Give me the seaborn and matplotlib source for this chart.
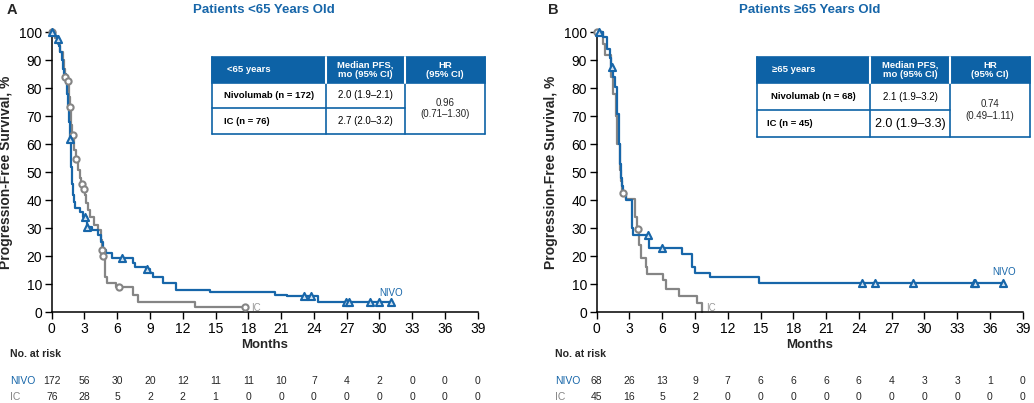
import numpy as np
import pandas as pd
import matplotlib
matplotlib.use("Agg")
import matplotlib.pyplot as plt
from matplotlib.patches import Rectangle
import seaborn as sns

# ---- data: panel A (<65 years) ----
a_nivo_t = [0, 0.3, 0.5, 0.7, 0.8, 0.9, 1.0, 1.15, 1.3, 1.4, 1.5, 1.58, 1.65, 1.75, 1.8, 1.85, 1.92, 2.0, 2.1,
            2.6, 2.9, 3.2, 3.65, 4.25, 4.55, 4.7, 5.0, 5.5, 7.45, 7.6, 8.65, 9.0, 9.3, 10.2, 11.4, 14.5, 20.4,
            21.5, 24.4, 31.1]
a_nivo_s = [100, 98.8, 97.5, 95, 93, 90, 87, 85, 82, 78, 73, 68, 62, 58, 52, 46, 42, 39.5, 37.1,
            36.0, 34.2, 30.6, 29.4, 27.6, 25.2, 22.3, 21.1, 19.3, 17.5, 16.1, 15.4, 13.9, 12.5, 10.6, 8.0, 7.1, 6.2,
            5.7, 3.6, 3.6]
a_nivo_cens = [0, 0.6, 1.67, 3.04, 3.26, 6.4, 8.7, 23.1, 23.7, 26.9, 27.2, 29.1, 30.0, 31.1]

a_ic_t = [0, 0.3, 0.6, 0.8, 1.0, 1.1, 1.2, 1.45, 1.55, 1.65, 1.8, 1.9, 2.05, 2.2, 2.4, 2.55, 2.7, 2.9, 3.05,
          3.15, 3.35, 3.55, 3.85, 4.26, 4.5, 4.6, 4.7, 4.85, 5.1, 5.9, 7.45, 7.9, 13.1, 17.7]
a_ic_s = [100, 98, 96, 93, 90, 87, 84.1, 82.6, 77, 73.3, 67, 63.3, 58, 54.6, 51, 48, 45.7, 44.2, 42,
          39, 36.5, 34.2, 31.2, 29.4, 25.8, 22.2, 20.2, 12.7, 10.6, 8.9, 6.2, 3.8, 1.8, 1.8]
a_ic_cens = [0, 1.22, 1.5, 1.7, 1.95, 2.27, 2.8, 3.0, 4.62, 4.72, 6.2, 17.7]

# ---- data: panel B (>=65 years) ----
b_nivo_t = [0, 0.6, 0.9, 1.2, 1.3, 1.5, 1.68, 1.83, 2.0, 2.14, 2.2, 2.3, 2.45, 2.7, 3.2, 3.3, 4.8, 7.8, 8.7,
            9.0, 10.4, 14.9, 37.2]
b_nivo_s = [100, 98.5, 94, 91, 87.5, 84, 80.6, 71, 60, 53, 47.9, 45, 42.5, 40, 30, 27.6, 22.9, 20.8, 16.3,
            14.2, 12.7, 10.6, 10.6]
b_nivo_cens = [0.2, 1.43, 4.73, 6.0, 24.3, 25.5, 29.0, 34.5, 34.6, 37.2]

b_ic_t = [0, 0.6, 0.8, 1.3, 1.5, 1.74, 1.9, 2.1, 2.2, 2.35, 2.7, 3.5, 3.7, 3.9, 4.1, 4.5, 4.6, 6.1, 6.35,
          7.5, 9.15, 9.6, 9.65]
b_ic_s = [100, 96, 91.9, 84, 78, 70, 60, 50.8, 47, 42.5, 40.5, 34, 29.8, 24, 19.3, 16.3, 13.7, 11.5, 8.3,
          6.0, 3.2, 0, 0]
b_ic_cens = [0, 2.44, 3.81]

risk_months = list(range(0, 40, 3))
a_risk_nivo = [172, 56, 30, 20, 12, 11, 11, 10, 7, 4, 2, 0, 0, 0]
a_risk_ic = [76, 28, 5, 2, 2, 1, 0, 0, 0, 0, 0, 0, 0, 0]
b_risk_nivo = [68, 26, 13, 9, 7, 6, 6, 6, 6, 4, 3, 3, 1, 0]
b_risk_ic = [45, 16, 5, 2, 0, 0, 0, 0, 0, 0, 0, 0, 0, 0]

a_table = [["<65 years", "Median PFS,\nmo (95% CI)", "HR\n(95% CI)"],
           ["Nivolumab (n = 172)", "2.0 (1.9\u20132.1)", "0.96\n(0.71\u20131.30)"],
           ["IC (n = 76)", "2.7 (2.0\u20133.2)", ""]]
b_table = [["\u226565 years", "Median PFS,\nmo (95% CI)", "HR\n(95% CI)"],
           ["Nivolumab (n = 68)", "2.1 (1.9\u20133.2)", "0.74\n(0.49\u20131.11)"],
           ["IC (n = 45)", "2.0 (1.9\u20133.3)", ""]]

BLUE = "#1766a9"
HEAD = "#0d62a6"
GRAY = "#858585"

sns.set_style("ticks")
plt.rcParams["font.family"] = ["Liberation Sans", "DejaVu Sans"]

W, H = 1034, 403
fig = plt.figure(figsize=(W / 100, H / 100), dpi=100)


def fx(px):
    return px / W


def fy(py):
    return 1 - py / H


def step_at(times, surv, t):
    idx = np.searchsorted(times, t, side="right") - 1
    return np.asarray(surv)[idx]


def km_panel(ax, nivo_t, nivo_s, nivo_c, ic_t, ic_s, ic_c):
    ic = pd.DataFrame({"t": ic_t, "s": ic_s})
    nv = pd.DataFrame({"t": nivo_t, "s": nivo_s})
    sns.lineplot(data=ic, x="t", y="s", ax=ax, color=GRAY, lw=1.6, drawstyle="steps-post",
                 estimator=None, sort=False, clip_on=False)
    sns.lineplot(data=nv, x="t", y="s", ax=ax, color=BLUE, lw=1.6, drawstyle="steps-post",
                 estimator=None, sort=False, clip_on=False)
    ic_c_df = pd.DataFrame({"t": ic_c, "s": step_at(ic_t, ic_s, ic_c)})
    nv_c_df = pd.DataFrame({"t": nivo_c, "s": step_at(nivo_t, nivo_s, nivo_c)})
    sns.scatterplot(data=ic_c_df, x="t", y="s", ax=ax, marker="o", s=20, facecolor="white",
                    edgecolor=GRAY, linewidth=1.5, clip_on=False, zorder=4)
    sns.scatterplot(data=nv_c_df, x="t", y="s", ax=ax, marker="^", s=26, facecolor="#cfe0ef",
                    edgecolor=BLUE, linewidth=1.5, clip_on=False, zorder=5)
    ax.set_xlim(0, 39)
    ax.set_ylim(0, 100)
    ax.set_xticks(range(0, 40, 3))
    ax.set_yticks(range(0, 101, 10))
    ax.tick_params(labelsize=10, length=5, width=1, colors="black", pad=2)
    for sp in ["left", "bottom"]:
        ax.spines[sp].set_linewidth(1.1)
        ax.spines[sp].set_color("black")
    sns.despine(ax=ax)
    ax.set_xlabel("")
    ax.set_ylabel("Progression-Free Survival, %", fontsize=10, fontweight="bold")
    ax.yaxis.set_label_coords(-0.092, 0.5)
    ax.text(19.5, -0.117, "Months", transform=ax.get_xaxis_transform(), ha="center", va="center",
            fontsize=9.5, fontweight="bold")


def risk_table(ax, nivo, ic):
    tr = ax.get_xaxis_transform()
    ax.text(-3.8, -0.149, "No. at risk", transform=tr, ha="left", va="center", fontsize=7.6, fontweight="bold")
    ax.text(-3.8, -0.245, "NIVO", transform=tr, ha="left", va="center", fontsize=7.5, color=BLUE)
    ax.text(-3.8, -0.3025, "IC", transform=tr, ha="left", va="center", fontsize=7.5, color=GRAY)
    for m, n1, n2 in zip(risk_months, nivo, ic):
        ax.text(m, -0.245, str(n1), transform=tr, ha="center", va="center", fontsize=7.5)
        ax.text(m, -0.3025, str(n2), transform=tr, ha="center", va="center", fontsize=7.5)


def draw_table(cols, rows, cells, text_left, big_cell=None):
    # header fill
    fig.patches.append(Rectangle((fx(cols[0]), fy(rows[1])), fx(cols[-1]) - fx(cols[0]), fy(rows[0]) - fy(rows[1]),
                                 transform=fig.transFigure, facecolor=HEAD, edgecolor=HEAD, lw=1.2))
    # body outline and lines
    lk = dict(transform=fig.transFigure, color=HEAD, lw=1.2)
    x0, x1 = fx(cols[0]), fx(cols[-1])
    fig.add_artist(plt.Line2D([x0, x1], [fy(rows[3]), fy(rows[3])], **lk))
    fig.add_artist(plt.Line2D([x0, fx(cols[2])], [fy(rows[2]), fy(rows[2])], **lk))
    for c in cols:
        fig.add_artist(plt.Line2D([fx(c), fx(c)], [fy(rows[0]), fy(rows[3])], **lk))
    for c in cols[1:-1]:
        fig.add_artist(plt.Line2D([fx(c), fx(c)], [fy(rows[0]), fy(rows[1])], transform=fig.transFigure,
                                  color="white", lw=1.5))
    for r in range(3):
        yc = fy((rows[r] + rows[r + 1]) / 2)
        fig.text(fx(text_left[r]), yc, cells[r][0], ha="left", va="center", fontsize=6.8, fontweight="bold",
                 color="white" if r == 0 else "black")
        fs = 9 if big_cell == r else 7
        fig.text(fx((cols[1] + cols[2]) / 2), yc, cells[r][1], ha="center", va="center",
                 fontsize=6.8 if r == 0 else fs, fontweight="bold" if r == 0 else "normal",
                 color="white" if r == 0 else "black", linespacing=1.1)
    fig.text(fx((cols[2] + cols[3]) / 2), fy((rows[0] + rows[1]) / 2), cells[0][2], ha="center", va="center",
             fontsize=6.8, fontweight="bold", color="white", linespacing=1.1)
    fig.text(fx((cols[2] + cols[3]) / 2), fy((rows[1] + rows[3]) / 2), cells[1][2], ha="center", va="center",
             fontsize=7, linespacing=1.2)


axA = fig.add_axes([fx(51.7), fy(312.3), fx(426), 280 / H])
axB = fig.add_axes([fx(596.7), fy(312.3), fx(426), 280 / H])

km_panel(axA, a_nivo_t, a_nivo_s, a_nivo_cens, a_ic_t, a_ic_s, a_ic_cens)
km_panel(axB, b_nivo_t, b_nivo_s, b_nivo_cens, b_ic_t, b_ic_s, b_ic_cens)
risk_table(axA, a_risk_nivo, a_risk_ic)
risk_table(axB, b_risk_nivo, b_risk_ic)

axA.text(30.0, 7.0, "NIVO", color=BLUE, fontsize=7, ha="left", va="center")
axA.text(18.3, 1.7, "IC", color="#999999", fontsize=7, ha="left", va="center")
axB.text(36.2, 14.5, "NIVO", color=BLUE, fontsize=7, ha="left", va="center")
axB.text(10.0, 1.7, "IC", color="#999999", fontsize=7, ha="left", va="center")

fig.text(fx(7), fy(10), "A", fontsize=10.5, fontweight="bold", ha="left", va="center")
fig.text(fx(548), fy(10), "B", fontsize=10.5, fontweight="bold", ha="left", va="center")
fig.text(fx(264), fy(10), "Patients <65 Years Old", fontsize=9.5, fontweight="bold", color=BLUE,
         ha="center", va="center")
fig.text(fx(810), fy(10), "Patients \u226565 Years Old", fontsize=9.5, fontweight="bold", color=BLUE,
         ha="center", va="center")

draw_table([212, 326, 405, 485], [57, 83, 108, 134], a_table, [227, 224, 224])
draw_table([757, 870, 950, 1030], [57, 83, 110, 137], b_table, [772, 771, 767], big_cell=2)

fig.savefig("out.png", dpi=100)
